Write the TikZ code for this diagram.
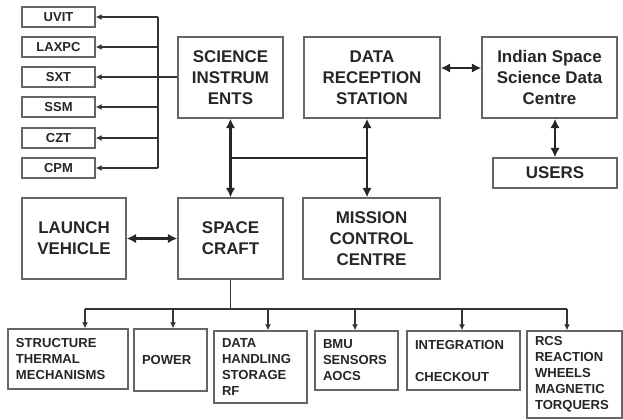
\documentclass[tikz,border=0pt]{standalone}
\usepackage{fontspec}
\setmainfont{Liberation Sans}
\usetikzlibrary{arrows.meta}
\begin{document}
\begin{tikzpicture}[x=0.75pt,y=-0.75pt,
 box/.style={draw=black!60, line width=1.05pt, fill=white, text=black!85, inner sep=0pt, align=center},
 big/.style={box, font=\fontsize{12.7}{15.75}\selectfont\bfseries},
 small/.style={box, font=\fontsize{9.75}{12}\selectfont\bfseries, minimum width=54.75pt, minimum height=15pt},
 low/.style={box, font=\fontsize{9.8}{12}\selectfont\bfseries, align=left, inner xsep=6pt, inner ysep=0pt},
 dbl/.style={{Latex[length=7pt,width=7pt]}-{Latex[length=7pt,width=7pt]}, line width=1.7pt, draw=black!85},
 thick link/.style={line width=1.7pt, draw=black!85},
 thin/.style={line width=1pt, draw=black!80},
 tip/.style={thin, -{Latex[length=4.5pt,width=4.5pt]}},
]
\useasboundingbox (0,0) rectangle (623,419);
% instrument boxes
\node[small] (uvit) at (58.5,17) {UVIT};
\node[small] (laxpc) at (58.5,47) {LAXPC};
\node[small] (sxt) at (58.5,77) {SXT};
\node[small] (ssm) at (58.5,107) {SSM};
\node[small] (czt) at (58.5,138) {CZT};
\node[small] (cpm) at (58.5,168) {CPM};
% main boxes
\node[big, minimum width=78.75pt, minimum height=60.75pt] (si) at (230.5,77.5) {SCIENCE\\INSTRUM\\ENTS};
\node[big, minimum width=102pt, minimum height=60.75pt] (drs) at (372,77.5) {DATA\\RECEPTION\\STATION};
\node[big, minimum width=101.25pt, minimum height=60.75pt] (issdc) at (549.5,77.5) {Indian Space\\Science Data\\Centre};
\node[big, minimum width=93pt, minimum height=22.5pt] (users) at (555,173) {USERS};
\node[big, minimum width=78pt, minimum height=60.75pt] (lv) at (74,238.5) {LAUNCH\\VEHICLE};
\node[big, minimum width=78.75pt, minimum height=60.75pt] (sc) at (230.5,238.5) {SPACE\\CRAFT};
\node[big, minimum width=102.75pt, minimum height=60.75pt] (mcc) at (371.5,238.5) {MISSION\\CONTROL\\CENTRE};
% subsystem boxes
\node[low, text width=78pt, minimum height=45pt] (st) at (68,359) {STRUCTURE\\THERMAL\\MECHANISMS};
\node[low, text width=42.75pt, minimum height=46.5pt] (pw) at (170.5,360) {POWER};
\node[low, text width=57.75pt, minimum height=54pt] (dh) at (260.5,367) {DATA\\HANDLING\\STORAGE\\RF};
\node[low, text width=50.25pt, minimum height=44.25pt] (bmu) at (356.5,360.5) {BMU\\SENSORS\\AOCS};
\node[low, text width=72.75pt, minimum height=44.25pt] (ic) at (463.5,360.5) {INTEGRATION\\\mbox{}\\CHECKOUT};
\node[low, text width=59.25pt, minimum height=65.25pt] (rcs) at (574.5,374.5) {RCS\\REACTION\\WHEELS\\MAGNETIC\\TORQUERS};
% instrument bus
\coordinate (bus) at (158,17);
\draw[thin] (bus |- uvit.east) -- (bus |- cpm.east);
\draw[tip] (sxt.east -| si.west) -- (sxt.east);
\foreach \n in {uvit,laxpc,ssm,czt,cpm}
  \draw[tip] (bus |- \n.east) -- (\n.east);
% main links
\draw[dbl] (si.south) -- (sc.north);
\coordinate (dl) at (367,118);
\draw[dbl] (dl |- drs.south) -- (dl |- mcc.north);
\coordinate (hl) at (230.5,158);
\draw[thick link] (hl) -- (hl -| dl);
\coordinate (dr) at (440,68);
\draw[dbl] (dr -| drs.east) -- (dr -| issdc.west);
\draw[dbl] (users.north |- issdc.south) -- (users.north);
\draw[dbl] (lv.east) -- (sc.west);
% subsystem tree
\coordinate (bar) at (230.5,309);
\coordinate (b1) at (85,309);
\coordinate (b2) at (173,309);
\coordinate (b3) at (268,309);
\coordinate (b4) at (355,309);
\coordinate (b5) at (462,309);
\coordinate (b6) at (567,309);
\draw[thin] (bar |- sc.south) -- (bar);
\draw[thin] (b1) -- (b6);
\draw[tip] (b1) -- (b1 |- st.north);
\draw[tip] (b2) -- (b2 |- pw.north);
\draw[tip] (b3) -- (b3 |- dh.north);
\draw[tip] (b4) -- (b4 |- bmu.north);
\draw[tip] (b5) -- (b5 |- ic.north);
\draw[tip] (b6) -- (b6 |- rcs.north);
\end{tikzpicture}
\end{document}
